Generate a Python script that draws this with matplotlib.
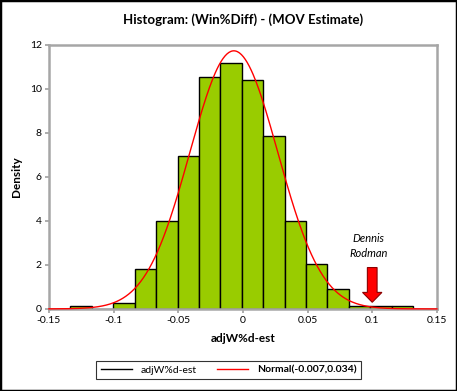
from matplotlib import pyplot as plt
from matplotlib.patches import Rectangle, FancyArrow
import numpy as np

# histogram bins (left edges) and densities
bin_width = 0.01655
bin_left = [-0.1333, -0.1167, -0.1002, -0.0836, -0.0671, -0.0505, -0.0340, -0.0174,
            -0.0009, 0.0157, 0.0322, 0.0488, 0.0653, 0.0819, 0.0984, 0.1150]
density = [0.15, 0.0, 0.27, 1.82, 4.0, 6.97, 10.53, 11.16,
           10.41, 7.85, 4.0, 2.05, 0.91, 0.15, 0.15, 0.15]

# fitted normal parameters (from legend)
norm_mean = -0.007
norm_sd = 0.034

x_ticks = [-0.15, -0.1, -0.05, 0, 0.05, 0.1, 0.15]
x_labels = ['-0.15', '-0.1', '-0.05', '0', '0.05', '0.1', '0.15']
y_ticks = [0, 2, 4, 6, 8, 10, 12]

plt.rcParams['font.family'] = ['Lato', 'DejaVu Sans']

fig = plt.figure(figsize=(4.57, 3.91), dpi=100)
ax = fig.add_axes([0.107, 0.21, 0.849, 0.675])

ax.bar(bin_left, density, width=bin_width, align='edge',
       color='#99CC00', edgecolor='black', linewidth=1.0, label='adjW%d-est')

xs = np.linspace(-0.15, 0.15, 400)
pdf = np.exp(-0.5 * ((xs - norm_mean) / norm_sd) ** 2) / (norm_sd * np.sqrt(2 * np.pi))
ax.plot(xs, pdf, color='red', linewidth=1.0, clip_on=False, zorder=5)

ax.add_patch(FancyArrow(0.1, 1.88, 0, -1.58, width=0.0075, head_width=0.015,
                        head_length=0.45, length_includes_head=True,
                        facecolor='red', edgecolor='#8B0000', linewidth=0.8, zorder=6))
ax.text(0.097, 2.87, 'Dennis\nRodman', style='italic', fontsize=8,
        ha='center', va='center', linespacing=1.5)

ax.set_xlim(-0.15, 0.15)
ax.set_ylim(0, 12)
ax.set_xticks(x_ticks)
ax.set_xticklabels(x_labels)
ax.set_yticks(y_ticks)
ax.tick_params(labelsize=7.5, length=3, color='#A0A0A0', width=1.2, pad=2)
for s in ax.spines.values():
    s.set_color('#A6A6A6')
    s.set_linewidth(1.8)

ax.set_title('Histogram: (Win%Diff) - (MOV Estimate)', fontsize=9.5,
             fontweight='bold', pad=15)
ax.set_xlabel('adjW%d-est', fontsize=8.5, fontweight='bold', labelpad=6)
ax.set_ylabel('Density', fontsize=8.5, fontweight='bold')
ax.yaxis.set_label_coords(-0.07, 0.5)

h1, = ax.plot([], [], color='black', linewidth=1)
h2, = ax.plot([], [], color='red', linewidth=1)
leg = fig.legend([h1, h2], ['adjW%d-est', 'Normal(-0.007,0.034)'],
                 loc='center', bbox_to_anchor=(0.5, 0.054), ncol=2,
                 fontsize=7.5, frameon=True, fancybox=False, handlelength=3.0,
                 columnspacing=2.0, borderpad=0.4)
leg.get_frame().set_edgecolor('black')
leg.get_frame().set_linewidth(0.8)
leg.get_texts()[1].set_fontweight('bold')

fig.patches.append(Rectangle((0, 0), 1, 1, transform=fig.transFigure,
                             fill=False, edgecolor='black', linewidth=2.5))

fig.savefig('out.png', dpi=100)
